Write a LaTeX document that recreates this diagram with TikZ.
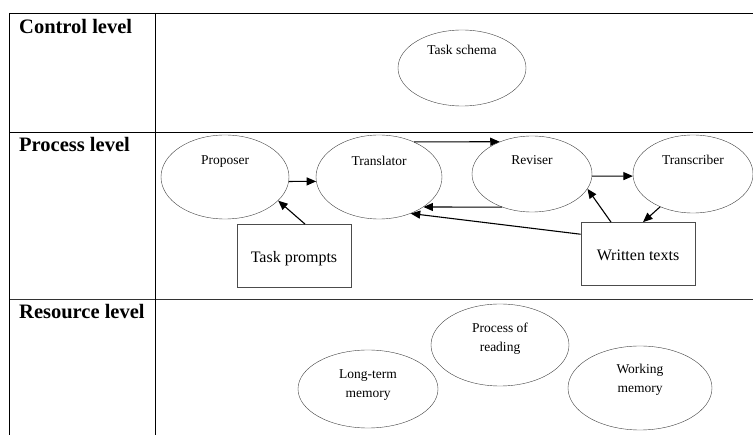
\documentclass[tikz,border=0pt]{standalone}
\usepackage{fontspec}
\setmainfont{Liberation Serif}
\usetikzlibrary{shapes.geometric,arrows.meta}

\begin{document}
\begin{tikzpicture}[x=1pt,y=-1pt,
    stage/.style={draw=black!75, ellipse, inner sep=0pt},
    source/.style={draw=black!70, line width=0.8pt, rectangle, minimum width=114pt, minimum height=63pt, text height=17pt, text depth=3.5pt, font=\fontsize{16}{19}\selectfont},
    txt/.style={font=\fontsize{13.5}{19}\selectfont, align=center},
    level/.style={anchor=base west, inner sep=0pt, font=\fontsize{20.5}{24}\selectfont\bfseries},
    arr/.style={-{Triangle[length=9.5pt,width=8pt]}, line width=1.1pt}]
            \useasboundingbox (0,0) rectangle (753,435);
            % table
            \draw (9,13) -- (753,13);
            \draw (9,132) -- (753,132);
            \draw [black!80] (9,299) -- (753,299);
            \draw (9,13) -- (9,435);
            \draw (155,13) -- (155,435);
            \node [level] (ctl) at (19,34) {Control level};
            \node [level] (pro) at (19,152) {Process level};
            \node [level] (res) at (19,319) {Resource level};
            % control level
            \node [stage, minimum width=128pt, minimum height=76pt] (schema) at (462,68) {};
            \node [txt] (schema-t) at (462,50) {Task schema};
            % process level
            \node [stage, minimum width=128pt, minimum height=84pt] (prop) at (225,177) {};
            \node [stage, minimum width=126pt, minimum height=84pt] (trans) at (379,177) {};
            \node [stage, minimum width=120pt, minimum height=76pt] (rev) at (532,174) {};
            \node [stage, minimum width=120pt, minimum height=78pt] (trc) at (693,174) {};
            \node [txt] (prop-t) at (225,162) {Proposer};
            \node [txt] (trans-t) at (379,161) {Translator};
            \node [txt] (rev-t) at (532,160) {Reviser};
            \node [txt] (trc-t) at (693,160) {Transcriber};
            \node [source] (tp) at (294,256) {Task prompts};
            \node [source] (wt) at (638,254) {Written texts};
            \draw [arr] (prop.-4) -- (trans.184);
            \draw [arr] (trans.45) -- (rev.135);
            \draw [arr] (rev.-132) -- (trans.-34);
            \draw [arr] (rev.-2) -- (trc.182);
            \draw [arr] (trc.-135) -- ([xshift=5pt]wt.north);
            \draw [arr] ([xshift=-27pt]wt.north) -- (rev.-15);
            \draw [arr] (wt.161) -- (trans.-49);
            \draw [arr] ([xshift=11pt]tp.north) -- (prop.-24);
            % resource level
            \node [stage, minimum width=140pt, minimum height=78pt] (ltm) at (368,389) {};
            \node [stage, minimum width=138pt, minimum height=82pt] (read) at (500,345) {};
            \node [stage, minimum width=144pt, minimum height=84pt] (wm) at (640,388) {};
            \node [txt] (ltm-t) at (368,385) {Long-term\\memory};
            \node [txt] (read-t) at (500,339) {Process of\\reading};
            \node [txt] (wm-t) at (640,380) {Working\\memory};
        \end{tikzpicture}
\end{document}
